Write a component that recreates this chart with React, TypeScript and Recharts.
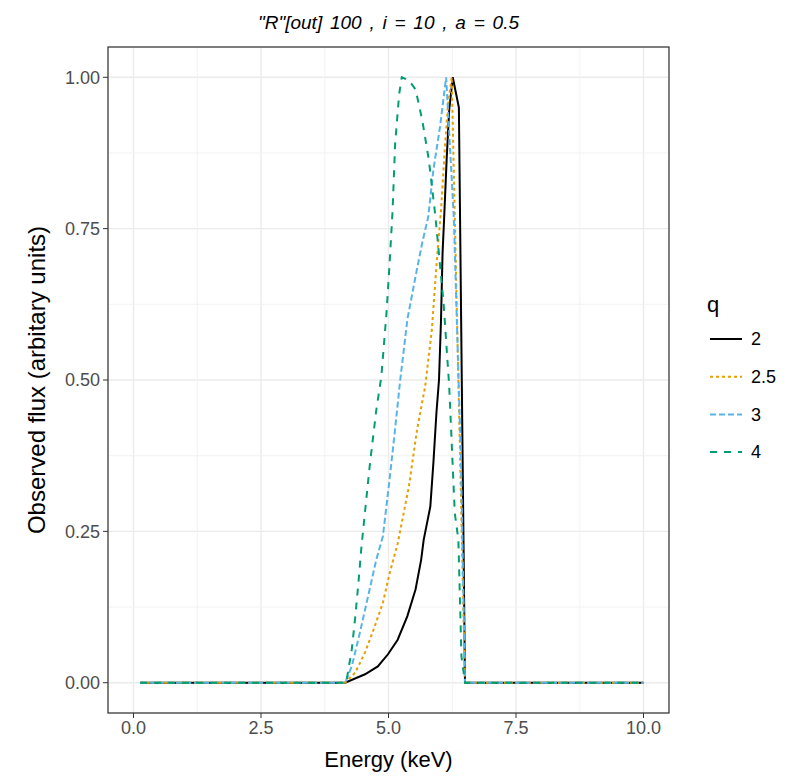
import React from 'react';
import { LineChart, Line, XAxis, YAxis, CartesianGrid, ReferenceLine } from 'recharts';

// ---- data ----
const q2X = [0.13, 4.15, 4.54, 4.79, 4.99, 5.18, 5.37, 5.53, 5.64, 5.69, 5.82, 5.88, 5.94, 5.99, 6.03, 6.06, 6.09, 6.14, 6.19, 6.26, 6.38, 6.5, 10];
const q2Y = [0, 0, 0.014, 0.027, 0.047, 0.071, 0.11, 0.154, 0.203, 0.236, 0.291, 0.363, 0.446, 0.5, 0.6, 0.71, 0.765, 0.864, 0.946, 1.0, 0.95, 0, 0];

const q25X = [0.13, 4.15, 4.35, 4.54, 4.73, 4.89, 5.02, 5.18, 5.4, 5.56, 5.72, 5.85, 5.92, 5.98, 6.03, 6.11, 6.17, 6.24, 6.5, 10];
const q25Y = [0, 0, 0.017, 0.05, 0.093, 0.132, 0.18, 0.23, 0.324, 0.418, 0.49, 0.583, 0.666, 0.732, 0.78, 0.89, 0.957, 1.0, 0, 0];

const q3X = [0.13, 4.15, 4.28, 4.44, 4.6, 4.76, 4.89, 5.02, 5.12, 5.23, 5.37, 5.53, 5.66, 5.78, 5.88, 6.01, 6.13, 6.28, 6.42, 6.5, 10];
const q3Y = [0, 0, 0.027, 0.083, 0.143, 0.203, 0.242, 0.335, 0.412, 0.5, 0.6, 0.671, 0.726, 0.77, 0.847, 0.918, 1.0, 0.77, 0.37, 0, 0];

const q4X = [0.13, 4.17, 4.28, 4.35, 4.41, 4.47, 4.63, 4.76, 4.86, 4.96, 5.02, 5.08, 5.13, 5.21, 5.26, 5.4, 5.53, 5.66, 5.79, 5.92, 6.08, 6.19, 6.3, 6.37, 6.43, 6.5, 10];
const q4Y = [0, 0, 0.055, 0.11, 0.165, 0.225, 0.357, 0.45, 0.506, 0.61, 0.69, 0.78, 0.89, 0.973, 1.0, 0.995, 0.98, 0.93, 0.864, 0.77, 0.627, 0.49, 0.28, 0.236, 0.044, 0, 0];

const qLabels = ['2', '2.5', '3', '4'];
const xTicks = [0, 2.5, 5, 7.5, 10];
const yTicks = [0, 0.25, 0.5, 0.75, 1];
const xMinor = [1.25, 3.75, 6.25, 8.75];
const yMinor = [0.125, 0.375, 0.625, 0.875];

const titleText = '"R"[out] 100 , i = 10 , a = 0.5';
const xTitle = 'Energy (keV)';
const yTitle = 'Observed flux (arbitary units)';
const legendTitle = 'q';

// ---- styling ----
const colors = ['#000000', '#E69F00', '#56B4E9', '#009E73'];
const dashes = [undefined, '3 3', '6 3', '7 7'];
const FONT = '"Liberation Sans", Arial, Helvetica, sans-serif';
const W = 800;
const H = 776;
const M = { top: 47, right: 131, bottom: 33, left: 48 };
const YW = 60;
const XH = 30;

const zip = (xs: number[], ys: number[]) => xs.map((x, i) => ({ x, y: ys[i] }));
const series = [zip(q2X, q2Y), zip(q25X, q25Y), zip(q3X, q3Y), zip(q4X, q4Y)];

export default function App() {
  const plotLeft = M.left + YW;
  const plotTop = M.top;
  const plotRight = W - M.right;
  const plotBottom = H - M.bottom - XH;
  const cx = (plotLeft + plotRight) / 2;
  const cy = (plotTop + plotBottom) / 2;
  return (
    <div style={{ position: 'absolute', left: 0, top: 0, width: W, height: H, background: '#fff' }}>
      <LineChart width={W} height={H} margin={M}>
        <CartesianGrid stroke="#EBEBEB" strokeWidth={1.4} />
        {xMinor.map((v) => (
          <ReferenceLine key={'xm' + v} x={v} stroke="#F0F0F0" strokeWidth={0.9} />
        ))}
        {yMinor.map((v) => (
          <ReferenceLine key={'ym' + v} y={v} stroke="#F0F0F0" strokeWidth={0.9} />
        ))}
        <XAxis
          type="number"
          dataKey="x"
          domain={[-0.5, 10.5]}
          ticks={xTicks}
          allowDataOverflow
          height={XH}
          axisLine={false}
          tickLine={{ stroke: '#333333' }}
          tickSize={5}
          tickMargin={3}
          tickFormatter={(v: number) => v.toFixed(1)}
          tick={{ fill: '#4D4D4D', fontSize: 18, fontFamily: FONT }}
        />
        <YAxis
          type="number"
          dataKey="y"
          domain={[-0.05, 1.05]}
          ticks={yTicks}
          allowDataOverflow
          width={YW}
          axisLine={false}
          tickLine={{ stroke: '#333333' }}
          tickSize={5}
          tickMargin={3}
          tickFormatter={(v: number) => v.toFixed(2)}
          tick={{ fill: '#4D4D4D', fontSize: 18, fontFamily: FONT }}
        />
        {series.map((d, i) => (
          <Line
            key={qLabels[i]}
            data={d}
            dataKey="y"
            type="linear"
            stroke={colors[i]}
            strokeWidth={2}
            strokeDasharray={dashes[i]}
            dot={false}
            activeDot={false}
            isAnimationActive={false}
          />
        ))}
      </LineChart>
      <svg width={W} height={H} style={{ position: 'absolute', left: 0, top: 0, pointerEvents: 'none' }}>
        <rect x={plotLeft} y={plotTop} width={plotRight - plotLeft} height={plotBottom - plotTop} fill="none" stroke="#333333" strokeWidth={1.2} />
        <text x={cx} y={29} textAnchor="middle" fontFamily={FONT} fontStyle="italic" fontSize={19} fill="#000" style={{ wordSpacing: '2.5px' }}>
          {titleText}
        </text>
        <text x={cx} y={767} textAnchor="middle" fontFamily={FONT} fontSize={22} fill="#000">
          {xTitle}
        </text>
        <text x={45} y={cy} textAnchor="middle" fontFamily={FONT} fontSize={24} fill="#000" transform={`rotate(-90 45 ${cy})`}>
          {yTitle}
        </text>
        <text x={707} y={312} fontFamily={FONT} fontSize={22} fill="#000">
          {legendTitle}
        </text>
        {qLabels.map((lab, i) => {
          const y = 339 + i * 37.7;
          return (
            <g key={lab}>
              <line x1={710} x2={742} y1={y} y2={y} stroke={colors[i]} strokeWidth={2} strokeDasharray={dashes[i]} />
              <text x={751} y={y} dy="0.35em" fontFamily={FONT} fontSize={18} fill="#000">
                {lab}
              </text>
            </g>
          );
        })}
      </svg>
    </div>
  );
}
